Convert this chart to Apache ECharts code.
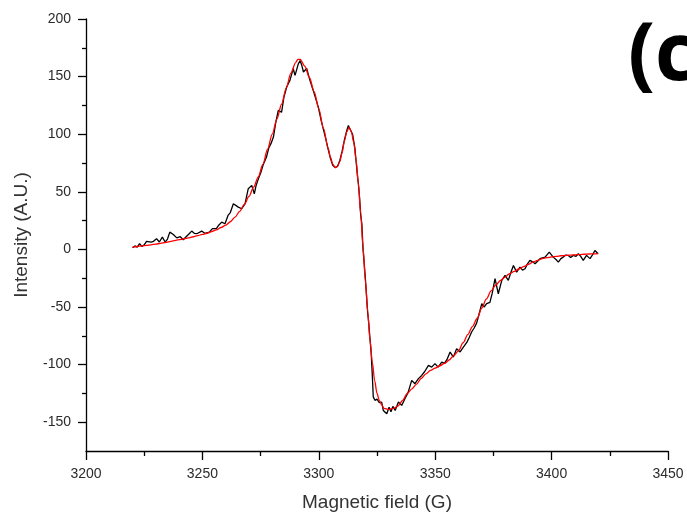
<!DOCTYPE html>
<html>
<head>
<meta charset="utf-8">
<script src="https://cdn.jsdelivr.net/npm/echarts@6/dist/echarts.min.js"></script>
<style>html,body{margin:0;padding:0;background:#fff;}#c{width:687px;height:517px;}</style>
</head>
<body>
<div id="c"></div>
<script>
// Experimental spectrum (black)
var expField = [3220,3221,3222,3223,3224,3225,3226,3226.8,3228,3229,3230.3,3231.5,3232.8,3234,3235,3236,3237.5,3239,3240.5,3241.8,3243,3244,3245.4,3246.5,3247.6,3249.7,3251,3251.8,3253,3254.3,3256,3257,3258.3,3259.7,3261,3262,3263.3,3264.5,3265.4,3266.9,3268.3,3269.7,3271.2,3272.3,3273,3274,3275,3276.2,3277.5,3278.5,3279.5,3280.5,3281.5,3282.6,3284,3285,3286.2,3287.6,3289,3289.8,3291.2,3292,3292.7,3293.4,3294.8,3296.2,3297.6,3299.8,3301,3302,3303,3304,3305,3306,3307,3308,3309,3310,3311,3312,3312.7,3313.5,3314.5,3315.5,3316.5,3317,3317.5,3318,3318.5,3319,3319.5,3320,3320.5,3321,3321.5,3322,3322.5,3323,3323.4,3324.1,3325,3326,3327,3327.7,3329.2,3330.2,3331,3331.8,3332.8,3334.2,3335.6,3337,3338.4,3339.9,3341.3,3342.8,3344.2,3345.5,3347.1,3348.5,3349.9,3351.3,3352.8,3354,3355.2,3356.4,3357.8,3359.2,3360.7,3362.1,3363.5,3364.5,3365.7,3366.8,3367.8,3369,3370,3371,3372.1,3373.5,3374.5,3375.7,3377.1,3378.6,3380,3381.4,3382.5,3383.6,3385,3386.4,3387.5,3388.6,3389.5,3390.7,3392,3392.9,3395,3397.2,3399,3400.7,3402,3402.9,3404,3405,3406,3407.2,3408.2,3409.3,3410.5,3411.5,3412.5,3413.6,3415,3416.5,3417.5,3418.6,3420];
var expIntensity = [1.5,3,2,5,2.6,4,7,8.4,6.4,7,9.3,6.4,10.7,6.4,9,15,13,10,11,8.4,11,13,15.9,14,13.6,15.9,14,13.6,15,18,18,21,23.7,22.3,29.5,32,39.6,38,36.7,35.3,39.6,52.7,55.6,48.3,55,61,66,74,80,88,92,97.5,110,120.7,119,132,141,146.7,156.8,151,161,164,159.7,154,157,146.7,138,123.5,112,104,96,87,79,73,71,72,77,85,95,103,107.6,106,100,88,66,57,45,30,22,0,-12,-25,-40,-55,-65,-78,-90,-110,-128,-131,-130,-133,-132.5,-139.8,-142.6,-137,-141,-136.3,-139.8,-132.5,-135.4,-129.6,-123.9,-113.7,-116.6,-112.2,-109.4,-106,-100.7,-102.2,-99.2,-102.2,-97.8,-99,-95,-89.1,-93.5,-86.2,-89,-84.8,-81,-77,-71.5,-68,-64,-55,-47.1,-50,-47.1,-46,-38,-25.4,-38.5,-26.9,-22.6,-26.9,-20,-13.9,-19.7,-15.4,-18,-16.8,-13,-9.5,-11,-12.4,-8.1,-6.7,-2.3,-6.7,-9,-11,-8,-6.7,-5,-5.2,-7,-5.2,-6,-3.8,-6,-9.5,-5.2,-8,-5,-0.9,-3.8];

// Fitted spectrum (red)
var fitField = [3220,3222,3224,3226,3228,3230,3232,3234,3236,3238,3240,3242,3244,3246,3248,3250,3252,3254,3256,3258,3260,3262,3264,3266,3268,3270,3272,3274,3276,3278,3280,3282,3284,3286,3288,3290,3291,3292,3294,3296,3298,3300,3302,3304,3305,3306,3307,3308,3309,3310,3311,3312,3313,3314,3315,3316,3317,3318,3319,3320,3321,3322,3323,3324,3325,3326,3327,3328,3330,3332,3334,3336,3338,3340,3342,3344,3346,3348,3350,3352,3354,3356,3358,3360,3362,3364,3366,3368,3370,3372,3374,3376,3378,3380,3382,3384,3386,3388,3390,3392,3394,3396,3398,3400,3402,3404,3406,3408,3410,3412,3414,3416,3418,3420];
var fitIntensity = [2,2.5,3,3.5,4,4.6,5.2,6,6.8,7.6,8.4,9.2,10,11,12,13,14,15.5,17,19,21,24,28,33,39,46,54,63,74,87,100,113,126,140,153,162,165,165,159,149,137,122,105,88,80,74,71,72,76,84,94,102,106,102,93,78,57,31,2,-27,-54,-79,-98,-114,-125,-131,-135,-138,-139,-138,-136,-131,-125,-121,-117,-112,-108,-105,-103,-101,-99,-96,-92,-88,-81,-74,-67,-60,-51,-43,-36,-31,-27,-24,-21,-19,-17,-15,-13,-11,-9.5,-8,-7.2,-6.5,-6,-5.5,-5.2,-5,-4.7,-4.5,-4.2,-4,-3.8,-3.6];

var xTicks = [3200,3250,3300,3350,3400,3450];
var yMajorTicks = [-150,-100,-50,0,50,100,150,200];
var yMinorTicks = [-125,-75,-25,25,75,125,175];

function pairs(xs, ys){ var out=[]; for(var i=0;i<xs.length;i++) out.push([xs[i], ys[i]]); return out; }

var chart = echarts.init(document.getElementById('c'), null, {renderer:'canvas'});
var labelFont = {fontFamily:'Liberation Sans', fontSize:14, color:'#2b2b2b'};
chart.setOption({
  animation:false,
  backgroundColor:'#fff',
  grid:{left:86, right:19, top:19, bottom:66},
  xAxis:{
    type:'value', min:xTicks[0], max:xTicks[xTicks.length-1], interval:50,
    name:'Magnetic field (G)', nameLocation:'middle', nameGap:42,
    nameTextStyle:{fontFamily:'Liberation Sans', fontSize:19, color:'#333'},
    axisLine:{show:true, onZero:false, lineStyle:{color:'#000', width:1.3}},
    axisTick:{show:true, inside:false, length:9, lineStyle:{color:'#000', width:1.3}},
    minorTick:{show:true, splitNumber:2, length:5, lineStyle:{color:'#000', width:1.3}},
    axisLabel:Object.assign({margin:16, formatter:function(v){return String(v);}}, labelFont),
    splitLine:{show:false}
  },
  yAxis:[{
    type:'value', min:-175, max:200,
    name:'Intensity (A.U.)', nameLocation:'middle', nameGap:55, nameRotate:90,
    nameTextStyle:{fontFamily:'Liberation Sans', fontSize:19, color:'#333'},
    axisLine:{show:true, onZero:false, lineStyle:{color:'#000', width:1.3}},
    axisTick:{show:true, inside:false, length:8, customValues:yMajorTicks, lineStyle:{color:'#000', width:1.3}},
    axisLabel:Object.assign({margin:15, customValues:yMajorTicks, formatter:function(v){return String(v);}}, labelFont),
    splitLine:{show:false}
  },{
    type:'value', min:-175, max:200, position:'left',
    axisLine:{show:false},
    axisTick:{show:true, inside:false, length:4, customValues:yMinorTicks, lineStyle:{color:'#000', width:1.3}},
    axisLabel:{show:false, customValues:yMinorTicks},
    splitLine:{show:false}
  }],
  series:[{
    type:'line', data:pairs(expField, expIntensity), showSymbol:false,
    lineStyle:{color:'#000', width:1.3}, z:2
  },{
    type:'line', data:pairs(fitField, fitIntensity), showSymbol:false, smooth:0.3, smoothMonotone:'x',
    lineStyle:{color:'#f00', width:1.3}, z:3
  }],
  graphic:[{
    type:'text', left:628, top:17,
    style:{text:'(c', fontFamily:'Open Sans', fontWeight:'bold', fontSize:80, fill:'#000'}
  }]
});
</script>
</body>
</html>
